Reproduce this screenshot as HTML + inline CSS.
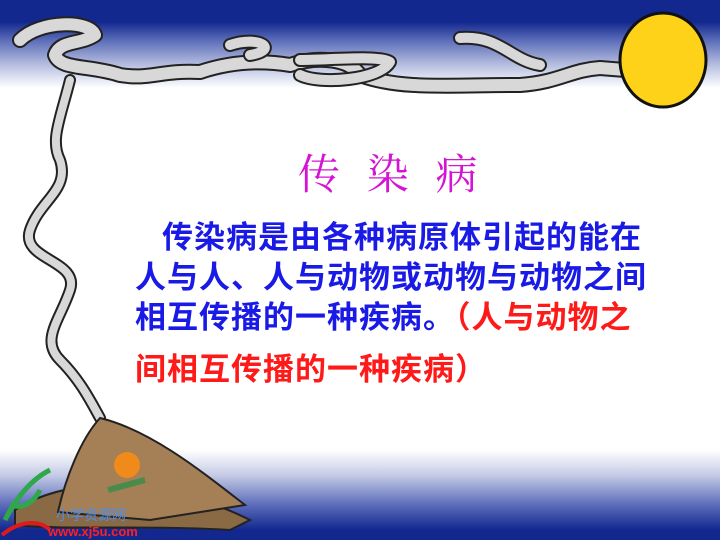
<!DOCTYPE html>
<html><head><meta charset="utf-8"><style>
html,body{margin:0;padding:0}
body{width:720px;height:540px;position:relative;overflow:hidden;background:#fff;font-family:"Liberation Sans","Noto Sans CJK SC",sans-serif}
.top{position:absolute;left:0;top:0;width:720px;height:90px;background:linear-gradient(#13288f 0,#13288f 22px,#5a6cb8 40px,#b7bfe0 65px,#fff 88px)}
.bot{position:absolute;left:0;top:450px;width:720px;height:90px;background:linear-gradient(#fff 0,#c5cbe6 25px,#5b6cb9 55px,#13288f 80px)}
.title{position:absolute;left:298px;top:142px;font-size:42px;color:#d414d4;letter-spacing:8px;font-family:"Noto Serif CJK SC","Noto Sans CJK SC",serif;white-space:nowrap}
.line{position:absolute;font-size:31px;font-weight:bold;color:#1a1ae6;white-space:nowrap;letter-spacing:1px}
.red{color:#ff1a1a}
</style></head><body>
<div class="top"></div>
<div class="bot"></div>
<svg width="720" height="540" style="position:absolute;left:0;top:0">
<g fill="none" stroke-linecap="round" stroke-linejoin="round">
<path d="M20,40 C40,20 90,20 95,35 C80,45 60,40 55,55 C60,70 90,65 120,75 C150,80 160,70 200,72 C230,62 260,60 290,65 C320,55 350,60 360,75 C400,90 450,85 520,85 C560,82 570,70 600,68 L650,72" stroke="#222" stroke-width="16"/>
<path d="M20,40 C40,20 90,20 95,35 C80,45 60,40 55,55 C60,70 90,65 120,75 C150,80 160,70 200,72 C230,62 260,60 290,65 C320,55 350,60 360,75 C400,90 450,85 520,85 C560,82 570,70 600,68 L650,72" stroke="#d8d8d8" stroke-width="12"/>
<path d="M230,45 C260,35 280,50 250,55 M460,38 C500,35 510,60 540,65 M300,60 C330,60 380,55 390,62 C380,80 320,85 300,75" stroke="#222" stroke-width="14"/>
<path d="M230,45 C260,35 280,50 250,55 M460,38 C500,35 510,60 540,65 M300,60 C330,60 380,55 390,62 C380,80 320,85 300,75" stroke="#d8d8d8" stroke-width="10"/>
<path d="M70,80 C60,120 50,140 60,160 C70,190 40,200 30,230 C20,260 80,260 70,290 C60,320 40,340 60,360 C80,380 90,400 100,418" stroke="#222" stroke-width="12"/>
<path d="M70,80 C60,120 50,140 60,160 C70,190 40,200 30,230 C20,260 80,260 70,290 C60,320 40,340 60,360 C80,380 90,400 100,418" stroke="#d8d8d8" stroke-width="8"/>
</g>
<ellipse cx="663" cy="60" rx="43" ry="47" fill="#ffd21a" stroke="#111" stroke-width="3"/>
<g>
<path d="M15,510 C60,480 150,470 250,520 L230,530 C150,525 60,530 15,525 Z" fill="#8a6a45" stroke="#222" stroke-width="2"/>
<path d="M100,418 C80,440 65,480 58,512 L150,520 L245,505 C200,470 150,430 100,418 Z" fill="#a57f55" stroke="#222" stroke-width="2"/>
<circle cx="127" cy="465" r="13" fill="#f08a1a"/>
<path d="M108,490 L145,480" stroke="#4a8a4a" stroke-width="6"/>
</g>
<path d="M5,520 C15,500 30,480 50,470 M10,505 C25,510 35,500 40,490" stroke="#2ea84a" stroke-width="5" fill="none"/>
<path d="M2,535 C20,520 40,520 50,530" stroke="#e01a1a" stroke-width="4" fill="none"/>
<text x="56" y="520" font-size="14" fill="#4b8ef0" font-family="Liberation Sans,Noto Sans CJK SC,sans-serif">小学资源网</text>
<text x="48" y="536" font-size="13" font-weight="bold" fill="#ff2020" font-family="Liberation Sans,sans-serif">www.xj5u.com</text>
</svg>
<div class="title">传 染 病</div>
<div class="line" style="left:162px;top:212px">传染病是由各种病原体引起的能在</div>
<div class="line" style="left:135px;top:252px">人与人、人与动物或动物与动物之间</div>
<div class="line" style="left:135px;top:292px">相互传播的一种疾病。<span class="red">（人与动物之</span></div>
<div class="line red" style="left:135px;top:344px">间相互传播的一种疾病）</div>
</body></html>
